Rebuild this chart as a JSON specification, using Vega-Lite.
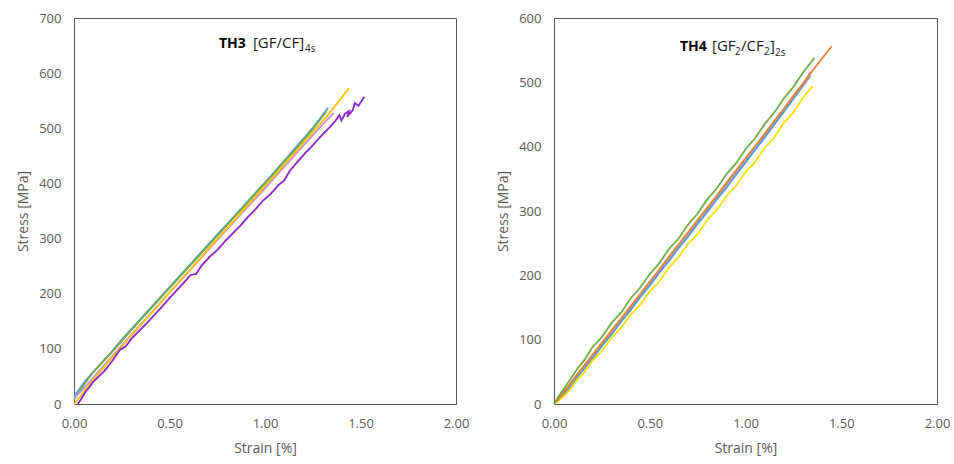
{
  "$schema": "https://vega.github.io/schema/vega-lite/v6.json",
  "padding": {"left": 16, "top": 11, "right": 5, "bottom": 5},
  "spacing": 26,
  "background": "white",
  "resolve": {"scale": {"color": "independent", "strokeWidth": "independent"}},
  "config": {
    "font": "Open Sans",
    "view": {"stroke": "#595959", "strokeWidth": 1},
    "axis": {"grid": false, "ticks": false, "labelFlush": false, "domainColor": "#595959", "labelFont": "Open Sans", "labelFontSize": 13, "labelColor": "#595959", "titleFont": "Open Sans", "titleFontSize": 14, "titleFontWeight": "normal", "titleColor": "#595959", "labelPadding": 13}
  },
  "datasets": {
    "one": [{"k": 1}],
    "th3": [
      {"series":"B","i":0,"strain":0.00,"stress":14},{"series":"B","i":1,"strain":0.03,"stress":28},{"series":"B","i":2,"strain":0.06,"stress":42},{"series":"B","i":3,"strain":0.10,"stress":58},{"series":"B","i":4,"strain":0.15,"stress":77},{"series":"B","i":5,"strain":0.20,"stress":96},{"series":"B","i":6,"strain":0.25,"stress":117},{"series":"B","i":7,"strain":0.30,"stress":136},{"series":"B","i":8,"strain":0.35,"stress":155},{"series":"B","i":9,"strain":0.40,"stress":174},{"series":"B","i":10,"strain":0.45,"stress":193},{"series":"B","i":11,"strain":0.50,"stress":212},{"series":"B","i":12,"strain":0.55,"stress":231},{"series":"B","i":13,"strain":0.60,"stress":250},{"series":"B","i":14,"strain":0.65,"stress":269},{"series":"B","i":15,"strain":0.70,"stress":288},{"series":"B","i":16,"strain":0.75,"stress":307},{"series":"B","i":17,"strain":0.80,"stress":326},{"series":"B","i":18,"strain":0.85,"stress":345},{"series":"B","i":19,"strain":0.90,"stress":364},{"series":"B","i":20,"strain":0.95,"stress":383},{"series":"B","i":21,"strain":1.00,"stress":402},{"series":"B","i":22,"strain":1.05,"stress":421},{"series":"B","i":23,"strain":1.10,"stress":441},{"series":"B","i":24,"strain":1.15,"stress":461},{"series":"B","i":25,"strain":1.20,"stress":481},{"series":"B","i":26,"strain":1.25,"stress":501},{"series":"B","i":27,"strain":1.30,"stress":523},{"series":"B","i":28,"strain":1.33,"stress":537},
      {"series":"G","i":0,"strain":0.00,"stress":8},{"series":"G","i":1,"strain":0.03,"stress":23},{"series":"G","i":2,"strain":0.06,"stress":39},{"series":"G","i":3,"strain":0.10,"stress":57},{"series":"G","i":4,"strain":0.15,"stress":76},{"series":"G","i":5,"strain":0.20,"stress":95},{"series":"G","i":6,"strain":0.25,"stress":114},{"series":"G","i":7,"strain":0.30,"stress":134},{"series":"G","i":8,"strain":0.35,"stress":153},{"series":"G","i":9,"strain":0.40,"stress":172},{"series":"G","i":10,"strain":0.45,"stress":191},{"series":"G","i":11,"strain":0.50,"stress":210},{"series":"G","i":12,"strain":0.55,"stress":229},{"series":"G","i":13,"strain":0.60,"stress":248},{"series":"G","i":14,"strain":0.65,"stress":267},{"series":"G","i":15,"strain":0.70,"stress":286},{"series":"G","i":16,"strain":0.75,"stress":305},{"series":"G","i":17,"strain":0.80,"stress":324},{"series":"G","i":18,"strain":0.85,"stress":343},{"series":"G","i":19,"strain":0.90,"stress":362},{"series":"G","i":20,"strain":0.95,"stress":381},{"series":"G","i":21,"strain":1.00,"stress":400},{"series":"G","i":22,"strain":1.05,"stress":419},{"series":"G","i":23,"strain":1.10,"stress":439},{"series":"G","i":24,"strain":1.15,"stress":458},{"series":"G","i":25,"strain":1.20,"stress":478},{"series":"G","i":26,"strain":1.25,"stress":498},{"series":"G","i":27,"strain":1.32,"stress":530},
      {"series":"L","i":0,"strain":0.00,"stress":10},{"series":"L","i":1,"strain":0.05,"stress":28},{"series":"L","i":2,"strain":0.10,"stress":48},{"series":"L","i":3,"strain":0.20,"stress":87},{"series":"L","i":4,"strain":0.30,"stress":126},{"series":"L","i":5,"strain":0.40,"stress":164},{"series":"L","i":6,"strain":0.50,"stress":202},{"series":"L","i":7,"strain":0.60,"stress":240},{"series":"L","i":8,"strain":0.70,"stress":278},{"series":"L","i":9,"strain":0.80,"stress":316},{"series":"L","i":10,"strain":0.90,"stress":354},{"series":"L","i":11,"strain":1.00,"stress":391},{"series":"L","i":12,"strain":1.10,"stress":430},{"series":"L","i":13,"strain":1.20,"stress":468},{"series":"L","i":14,"strain":1.30,"stress":506},{"series":"L","i":15,"strain":1.36,"stress":528},
      {"series":"Y","i":0,"strain":0.00,"stress":0},{"series":"Y","i":1,"strain":0.03,"stress":12},{"series":"Y","i":2,"strain":0.06,"stress":26},{"series":"Y","i":3,"strain":0.10,"stress":44},{"series":"Y","i":4,"strain":0.15,"stress":64},{"series":"Y","i":5,"strain":0.20,"stress":84},{"series":"Y","i":6,"strain":0.25,"stress":104},{"series":"Y","i":7,"strain":0.30,"stress":124},{"series":"Y","i":8,"strain":0.35,"stress":143},{"series":"Y","i":9,"strain":0.40,"stress":163},{"series":"Y","i":10,"strain":0.45,"stress":182},{"series":"Y","i":11,"strain":0.50,"stress":202},{"series":"Y","i":12,"strain":0.55,"stress":221},{"series":"Y","i":13,"strain":0.60,"stress":241},{"series":"Y","i":14,"strain":0.65,"stress":260},{"series":"Y","i":15,"strain":0.70,"stress":280},{"series":"Y","i":16,"strain":0.75,"stress":299},{"series":"Y","i":17,"strain":0.80,"stress":318},{"series":"Y","i":18,"strain":0.85,"stress":337},{"series":"Y","i":19,"strain":0.90,"stress":357},{"series":"Y","i":20,"strain":0.95,"stress":376},{"series":"Y","i":21,"strain":1.00,"stress":395},{"series":"Y","i":22,"strain":1.05,"stress":414},{"series":"Y","i":23,"strain":1.10,"stress":434},{"series":"Y","i":24,"strain":1.15,"stress":453},{"series":"Y","i":25,"strain":1.20,"stress":473},{"series":"Y","i":26,"strain":1.25,"stress":492},{"series":"Y","i":27,"strain":1.30,"stress":512},{"series":"Y","i":28,"strain":1.35,"stress":533},{"series":"Y","i":29,"strain":1.40,"stress":555},{"series":"Y","i":30,"strain":1.44,"stress":573},
      {"series":"P","i":0,"strain":0.02,"stress":0},{"series":"P","i":1,"strain":0.04,"stress":10},{"series":"P","i":2,"strain":0.06,"stress":22},{"series":"P","i":3,"strain":0.08,"stress":30},{"series":"P","i":4,"strain":0.10,"stress":40},{"series":"P","i":5,"strain":0.13,"stress":50},{"series":"P","i":6,"strain":0.16,"stress":60},{"series":"P","i":7,"strain":0.20,"stress":78},{"series":"P","i":8,"strain":0.24,"stress":98},{"series":"P","i":9,"strain":0.27,"stress":104},{"series":"P","i":10,"strain":0.30,"stress":118},{"series":"P","i":11,"strain":0.34,"stress":132},{"series":"P","i":12,"strain":0.38,"stress":146},{"series":"P","i":13,"strain":0.42,"stress":161},{"series":"P","i":14,"strain":0.46,"stress":176},{"series":"P","i":15,"strain":0.50,"stress":192},{"series":"P","i":16,"strain":0.54,"stress":207},{"series":"P","i":17,"strain":0.58,"stress":222},{"series":"P","i":18,"strain":0.61,"stress":234},{"series":"P","i":19,"strain":0.64,"stress":236},{"series":"P","i":20,"strain":0.67,"stress":252},{"series":"P","i":21,"strain":0.71,"stress":267},{"series":"P","i":22,"strain":0.75,"stress":279},{"series":"P","i":23,"strain":0.79,"stress":295},{"series":"P","i":24,"strain":0.83,"stress":309},{"series":"P","i":25,"strain":0.87,"stress":323},{"series":"P","i":26,"strain":0.91,"stress":339},{"series":"P","i":27,"strain":0.95,"stress":353},{"series":"P","i":28,"strain":0.99,"stress":369},{"series":"P","i":29,"strain":1.03,"stress":381},{"series":"P","i":30,"strain":1.07,"stress":397},{"series":"P","i":31,"strain":1.10,"stress":405},{"series":"P","i":32,"strain":1.13,"stress":423},{"series":"P","i":33,"strain":1.17,"stress":439},{"series":"P","i":34,"strain":1.21,"stress":455},{"series":"P","i":35,"strain":1.25,"stress":469},{"series":"P","i":36,"strain":1.28,"stress":481},{"series":"P","i":37,"strain":1.31,"stress":492},{"series":"P","i":38,"strain":1.34,"stress":502},{"series":"P","i":39,"strain":1.37,"stress":514},{"series":"P","i":40,"strain":1.39,"stress":524},{"series":"P","i":41,"strain":1.40,"stress":514},{"series":"P","i":42,"strain":1.42,"stress":527},{"series":"P","i":43,"strain":1.44,"stress":531},{"series":"P","i":44,"strain":1.43,"stress":521},{"series":"P","i":45,"strain":1.46,"stress":533},{"series":"P","i":46,"strain":1.47,"stress":546},{"series":"P","i":47,"strain":1.49,"stress":541},{"series":"P","i":48,"strain":1.52,"stress":557}
    ],
    "th4": [
      {"series":"A","i":0,"strain":0.00,"stress":0},{"series":"A","i":1,"strain":0.05,"stress":18},{"series":"A","i":2,"strain":0.10,"stress":36},{"series":"A","i":3,"strain":0.20,"stress":73},{"series":"A","i":4,"strain":0.30,"stress":111},{"series":"A","i":5,"strain":0.40,"stress":149},{"series":"A","i":6,"strain":0.50,"stress":187},{"series":"A","i":7,"strain":0.60,"stress":225},{"series":"A","i":8,"strain":0.70,"stress":263},{"series":"A","i":9,"strain":0.80,"stress":302},{"series":"A","i":10,"strain":0.90,"stress":340},{"series":"A","i":11,"strain":1.00,"stress":378},{"series":"A","i":12,"strain":1.10,"stress":417},{"series":"A","i":13,"strain":1.20,"stress":455},{"series":"A","i":14,"strain":1.30,"stress":494},{"series":"A","i":15,"strain":1.34,"stress":510},
      {"series":"B","i":0,"strain":0.00,"stress":0},{"series":"B","i":1,"strain":0.03,"stress":8},{"series":"B","i":2,"strain":0.06,"stress":18},{"series":"B","i":3,"strain":0.10,"stress":33},{"series":"B","i":4,"strain":0.15,"stress":52},{"series":"B","i":5,"strain":0.20,"stress":70},{"series":"B","i":6,"strain":0.25,"stress":90},{"series":"B","i":7,"strain":0.30,"stress":108},{"series":"B","i":8,"strain":0.35,"stress":128},{"series":"B","i":9,"strain":0.40,"stress":146},{"series":"B","i":10,"strain":0.45,"stress":166},{"series":"B","i":11,"strain":0.50,"stress":184},{"series":"B","i":12,"strain":0.55,"stress":204},{"series":"B","i":13,"strain":0.60,"stress":222},{"series":"B","i":14,"strain":0.65,"stress":242},{"series":"B","i":15,"strain":0.70,"stress":260},{"series":"B","i":16,"strain":0.75,"stress":280},{"series":"B","i":17,"strain":0.80,"stress":298},{"series":"B","i":18,"strain":0.85,"stress":318},{"series":"B","i":19,"strain":0.90,"stress":336},{"series":"B","i":20,"strain":0.95,"stress":356},{"series":"B","i":21,"strain":1.00,"stress":375},{"series":"B","i":22,"strain":1.05,"stress":395},{"series":"B","i":23,"strain":1.10,"stress":414},{"series":"B","i":24,"strain":1.15,"stress":434},{"series":"B","i":25,"strain":1.20,"stress":454},{"series":"B","i":26,"strain":1.25,"stress":475},{"series":"B","i":27,"strain":1.30,"stress":496},{"series":"B","i":28,"strain":1.34,"stress":516},
      {"series":"Y","i":0,"strain":0.00,"stress":0},{"series":"Y","i":1,"strain":0.04,"stress":9},{"series":"Y","i":2,"strain":0.08,"stress":21},{"series":"Y","i":3,"strain":0.12,"stress":37},{"series":"Y","i":4,"strain":0.16,"stress":50},{"series":"Y","i":5,"strain":0.20,"stress":67},{"series":"Y","i":6,"strain":0.25,"stress":82},{"series":"Y","i":7,"strain":0.30,"stress":103},{"series":"Y","i":8,"strain":0.35,"stress":118},{"series":"Y","i":9,"strain":0.40,"stress":139},{"series":"Y","i":10,"strain":0.45,"stress":154},{"series":"Y","i":11,"strain":0.50,"stress":175},{"series":"Y","i":12,"strain":0.55,"stress":190},{"series":"Y","i":13,"strain":0.60,"stress":212},{"series":"Y","i":14,"strain":0.65,"stress":228},{"series":"Y","i":15,"strain":0.70,"stress":249},{"series":"Y","i":16,"strain":0.75,"stress":264},{"series":"Y","i":17,"strain":0.80,"stress":286},{"series":"Y","i":18,"strain":0.85,"stress":302},{"series":"Y","i":19,"strain":0.90,"stress":323},{"series":"Y","i":20,"strain":0.95,"stress":339},{"series":"Y","i":21,"strain":1.00,"stress":361},{"series":"Y","i":22,"strain":1.05,"stress":376},{"series":"Y","i":23,"strain":1.10,"stress":398},{"series":"Y","i":24,"strain":1.15,"stress":414},{"series":"Y","i":25,"strain":1.20,"stress":437},{"series":"Y","i":26,"strain":1.25,"stress":453},{"series":"Y","i":27,"strain":1.30,"stress":476},{"series":"Y","i":28,"strain":1.35,"stress":494},
      {"series":"O","i":0,"strain":0.00,"stress":0},{"series":"O","i":1,"strain":0.03,"stress":10},{"series":"O","i":2,"strain":0.06,"stress":22},{"series":"O","i":3,"strain":0.10,"stress":38},{"series":"O","i":4,"strain":0.15,"stress":57},{"series":"O","i":5,"strain":0.20,"stress":76},{"series":"O","i":6,"strain":0.25,"stress":95},{"series":"O","i":7,"strain":0.30,"stress":114},{"series":"O","i":8,"strain":0.35,"stress":133},{"series":"O","i":9,"strain":0.40,"stress":152},{"series":"O","i":10,"strain":0.45,"stress":171},{"series":"O","i":11,"strain":0.50,"stress":190},{"series":"O","i":12,"strain":0.55,"stress":209},{"series":"O","i":13,"strain":0.60,"stress":229},{"series":"O","i":14,"strain":0.65,"stress":248},{"series":"O","i":15,"strain":0.70,"stress":267},{"series":"O","i":16,"strain":0.75,"stress":286},{"series":"O","i":17,"strain":0.80,"stress":305},{"series":"O","i":18,"strain":0.85,"stress":324},{"series":"O","i":19,"strain":0.90,"stress":344},{"series":"O","i":20,"strain":0.95,"stress":363},{"series":"O","i":21,"strain":1.00,"stress":382},{"series":"O","i":22,"strain":1.05,"stress":401},{"series":"O","i":23,"strain":1.10,"stress":420},{"series":"O","i":24,"strain":1.15,"stress":440},{"series":"O","i":25,"strain":1.20,"stress":459},{"series":"O","i":26,"strain":1.25,"stress":479},{"series":"O","i":27,"strain":1.30,"stress":498},{"series":"O","i":28,"strain":1.35,"stress":518},{"series":"O","i":29,"strain":1.40,"stress":537},{"series":"O","i":30,"strain":1.45,"stress":556},
      {"series":"G","i":0,"strain":0.00,"stress":0},{"series":"G","i":1,"strain":0.02,"stress":10},{"series":"G","i":2,"strain":0.05,"stress":23},{"series":"G","i":3,"strain":0.08,"stress":36},{"series":"G","i":4,"strain":0.12,"stress":54},{"series":"G","i":5,"strain":0.16,"stress":69},{"series":"G","i":6,"strain":0.20,"stress":88},{"series":"G","i":7,"strain":0.25,"stress":104},{"series":"G","i":8,"strain":0.30,"stress":126},{"series":"G","i":9,"strain":0.35,"stress":142},{"series":"G","i":10,"strain":0.40,"stress":164},{"series":"G","i":11,"strain":0.45,"stress":181},{"series":"G","i":12,"strain":0.50,"stress":202},{"series":"G","i":13,"strain":0.55,"stress":219},{"series":"G","i":14,"strain":0.60,"stress":241},{"series":"G","i":15,"strain":0.65,"stress":257},{"series":"G","i":16,"strain":0.70,"stress":279},{"series":"G","i":17,"strain":0.75,"stress":296},{"series":"G","i":18,"strain":0.80,"stress":318},{"series":"G","i":19,"strain":0.85,"stress":335},{"series":"G","i":20,"strain":0.90,"stress":357},{"series":"G","i":21,"strain":0.95,"stress":374},{"series":"G","i":22,"strain":1.00,"stress":396},{"series":"G","i":23,"strain":1.05,"stress":413},{"series":"G","i":24,"strain":1.10,"stress":435},{"series":"G","i":25,"strain":1.15,"stress":453},{"series":"G","i":26,"strain":1.20,"stress":475},{"series":"G","i":27,"strain":1.25,"stress":493},{"series":"G","i":28,"strain":1.30,"stress":515},{"series":"G","i":29,"strain":1.36,"stress":538}
    ]
  },
  "hconcat": [
    {
      "width": 382, "height": 386,
      "layer": [
        {
          "data": {"name": "th3"},
          "mark": {"type": "line", "interpolate": "linear"},
          "encoding": {
            "x": {"field": "strain", "type": "quantitative", "scale": {"domain": [0, 2], "nice": false, "zero": false, "padding": 0}, "axis": {"values": [0, 0.5, 1, 1.5, 2], "format": ".2f", "title": "Strain [%]", "titlePadding": 11}},
            "y": {"field": "stress", "type": "quantitative", "scale": {"domain": [0, 700], "nice": false, "padding": 0}, "axis": {"values": [0, 100, 200, 300, 400, 500, 600, 700], "title": "Stress [MPa]", "titlePadding": 8}},
            "color": {"field": "series", "type": "nominal", "scale": {"domain": ["B", "G", "L", "Y", "P"], "range": ["#5B9BD5", "#70AD47", "#C490E4", "#FFC000", "#8E24C8"]}, "legend": null},
            "strokeWidth": {"field": "series", "type": "nominal", "scale": {"domain": ["B", "G", "L", "Y", "P"], "range": [1.8, 1.8, 1.5, 1.8, 2.6]}, "legend": null},
            "order": {"field": "i", "type": "quantitative"}
          }
        },
        {"data": {"name": "one"}, "mark": {"type": "text", "align": "left", "baseline": "alphabetic", "font": "Open Sans", "fontSize": 14, "fontWeight": "bold", "color": "#000000"},
         "encoding": {"x": {"datum": 0.759, "type": "quantitative"}, "y": {"datum": 646, "type": "quantitative"}, "text": {"value": "TH3"}}},
        {"data": {"name": "one"}, "mark": {"type": "text", "align": "left", "baseline": "alphabetic", "font": "Open Sans", "fontSize": 15, "color": "#1a1a1a"},
         "encoding": {"x": {"datum": 0.937, "type": "quantitative"}, "y": {"datum": 646, "type": "quantitative"}, "text": {"value": "[GF/CF]"}}},
        {"data": {"name": "one"}, "mark": {"type": "text", "align": "left", "baseline": "alphabetic", "font": "Open Sans", "fontSize": 10, "color": "#1a1a1a"},
         "encoding": {"x": {"datum": 1.209, "type": "quantitative"}, "y": {"datum": 638, "type": "quantitative"}, "text": {"value": "4s"}}}
      ]
    },
    {
      "width": 383, "height": 386,
      "layer": [
        {
          "data": {"name": "th4"},
          "mark": {"type": "line", "strokeWidth": 1.8, "interpolate": "linear"},
          "encoding": {
            "x": {"field": "strain", "type": "quantitative", "scale": {"domain": [0, 2], "nice": false, "zero": false, "padding": 0}, "axis": {"values": [0, 0.5, 1, 1.5, 2], "format": ".2f", "title": "Strain [%]", "titlePadding": 11}},
            "y": {"field": "stress", "type": "quantitative", "scale": {"domain": [0, 600], "nice": false, "padding": 0}, "axis": {"values": [0, 100, 200, 300, 400, 500, 600], "title": "Stress [MPa]", "titlePadding": 8}},
            "color": {"field": "series", "type": "nominal", "scale": {"domain": ["A", "B", "Y", "O", "G"], "range": ["#A5A5A5", "#5B9BD5", "#FFE100", "#ED7D31", "#70AD47"]}, "legend": null},
            "order": {"field": "i", "type": "quantitative"}
          }
        },
        {"data": {"name": "one"}, "mark": {"type": "text", "align": "left", "baseline": "alphabetic", "font": "Open Sans", "fontSize": 14, "fontWeight": "bold", "color": "#000000"},
         "encoding": {"x": {"datum": 0.658, "type": "quantitative"}, "y": {"datum": 549, "type": "quantitative"}, "text": {"value": "TH4"}}},
        {"data": {"name": "one"}, "mark": {"type": "text", "align": "left", "baseline": "alphabetic", "font": "Open Sans", "fontSize": 15, "color": "#1a1a1a"},
         "encoding": {"x": {"datum": 0.825, "type": "quantitative"}, "y": {"datum": 549, "type": "quantitative"}, "text": {"value": "[GF"}}},
        {"data": {"name": "one"}, "mark": {"type": "text", "align": "left", "baseline": "alphabetic", "font": "Open Sans", "fontSize": 10, "color": "#1a1a1a"},
         "encoding": {"x": {"datum": 0.945, "type": "quantitative"}, "y": {"datum": 542, "type": "quantitative"}, "text": {"value": "2"}}},
        {"data": {"name": "one"}, "mark": {"type": "text", "align": "left", "baseline": "alphabetic", "font": "Open Sans", "fontSize": 15, "color": "#1a1a1a"},
         "encoding": {"x": {"datum": 0.977, "type": "quantitative"}, "y": {"datum": 549, "type": "quantitative"}, "text": {"value": "/CF"}}},
        {"data": {"name": "one"}, "mark": {"type": "text", "align": "left", "baseline": "alphabetic", "font": "Open Sans", "fontSize": 10, "color": "#1a1a1a"},
         "encoding": {"x": {"datum": 1.097, "type": "quantitative"}, "y": {"datum": 542, "type": "quantitative"}, "text": {"value": "2"}}},
        {"data": {"name": "one"}, "mark": {"type": "text", "align": "left", "baseline": "alphabetic", "font": "Open Sans", "fontSize": 15, "color": "#1a1a1a"},
         "encoding": {"x": {"datum": 1.128, "type": "quantitative"}, "y": {"datum": 549, "type": "quantitative"}, "text": {"value": "]"}}},
        {"data": {"name": "one"}, "mark": {"type": "text", "align": "left", "baseline": "alphabetic", "font": "Open Sans", "fontSize": 10, "color": "#1a1a1a"},
         "encoding": {"x": {"datum": 1.154, "type": "quantitative"}, "y": {"datum": 541, "type": "quantitative"}, "text": {"value": "2s"}}}
      ]
    }
  ]
}
